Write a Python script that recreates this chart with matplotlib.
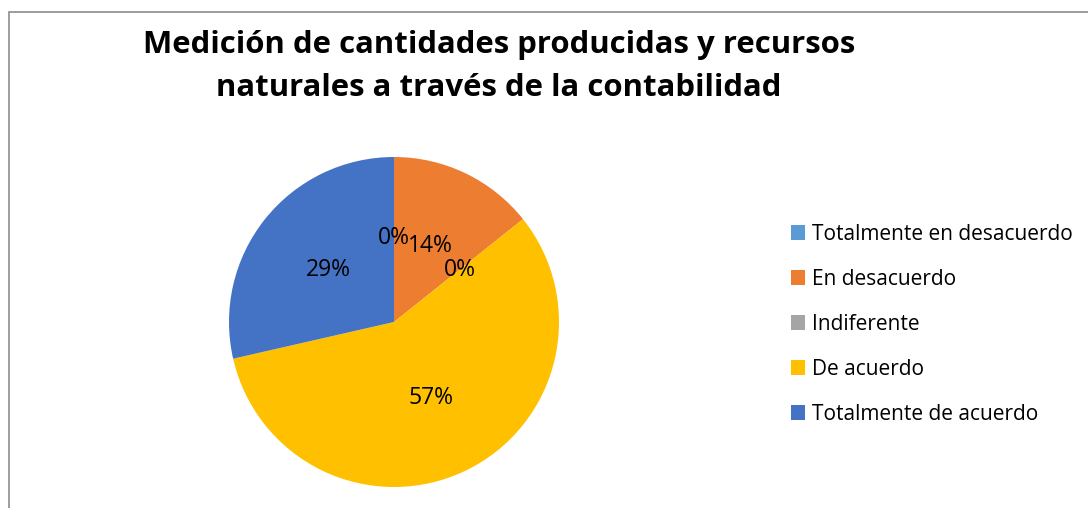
import matplotlib.pyplot as plt
from matplotlib.patches import Rectangle, Patch

categorias = ['Totalmente en desacuerdo', 'En desacuerdo', 'Indiferente',
              'De acuerdo', 'Totalmente de acuerdo']
respuestas = [0, 1, 0, 4, 2]
colores = ['#5B9BD5', '#ED7D31', '#A5A5A5', '#FFC000', '#4472C4']

plt.rcParams['font.family'] = ['Open Sans', 'DejaVu Sans']

W, H = 1088, 508
fig = plt.figure(figsize=(W / 100, H / 100), dpi=100)

# marco gris del area del grafico
fig.patches.append(Rectangle((9 / W, -0.1), 1.2, (H - 12) / H + 0.1,
                             transform=fig.transFigure, fill=False,
                             edgecolor='#8c8c8c', linewidth=1.2))

cx, cy, r = 394, H - 322, 165
ax = fig.add_axes([(cx - r) / W, (cy - r) / H, 2 * r / W, 2 * r / H])
ax.pie(respuestas, colors=colores, startangle=90, counterclock=False,
       autopct='%1.0f%%', pctdistance=0.51, radius=1,
       textprops={'fontsize': 16.5, 'color': 'black'})
ax.set_xlim(-1, 1)
ax.set_ylim(-1, 1)
ax.set_aspect('equal')

fig.text(499 / W, 1 - 45 / H, 'Medición de cantidades producidas y recursos',
         ha='center', va='center', fontsize=22.4, fontweight='bold')
fig.text(499 / W, 1 - 88 / H, 'naturales a través de la contabilidad',
         ha='center', va='center', fontsize=22.4, fontweight='bold')

handles = [Patch(facecolor=c, edgecolor='none') for c in colores]
fig.legend(handles, categorias, loc='upper left',
           bbox_to_anchor=(772 / W, 1 - 205 / H), frameon=False,
           fontsize=15, handlelength=0.7, handleheight=0.7,
           handletextpad=0.3, labelspacing=1.15)

fig.savefig('out.png', dpi=100)
